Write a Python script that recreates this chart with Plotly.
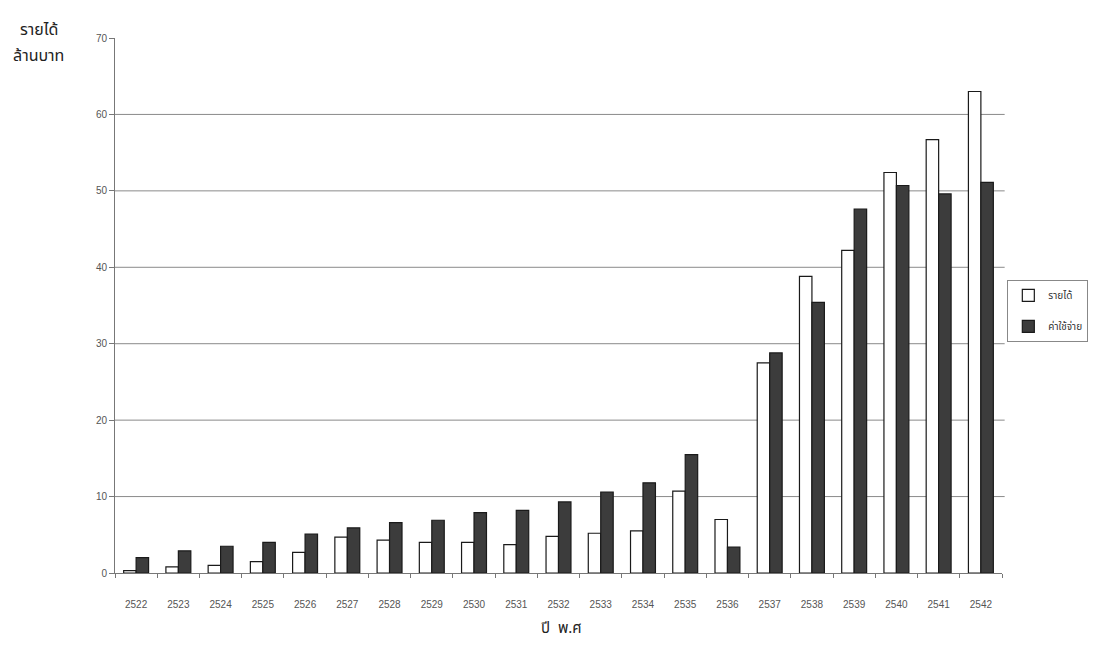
import plotly.graph_objects as go

# Fiscal years (Buddhist Era)
years = ["2522", "2523", "2524", "2525", "2526", "2527", "2528", "2529", "2530", "2531",
         "2532", "2533", "2534", "2535", "2536", "2537", "2538", "2539", "2540", "2541", "2542"]

# Income and expenses, million baht
income = [0.3, 0.8, 1.0, 1.5, 2.7, 4.7, 4.3, 4.0, 4.0, 3.7,
          4.8, 5.2, 5.5, 10.7, 7.0, 27.5, 38.8, 42.2, 52.4, 56.7, 63.0]
expense = [2.0, 2.9, 3.5, 4.0, 5.1, 5.9, 6.6, 6.9, 7.9, 8.2,
           9.3, 10.6, 11.8, 15.5, 3.4, 28.8, 35.4, 47.6, 50.7, 49.6, 51.1]

grid_values = [10, 20, 30, 40, 50, 60]
y_ticks = [0, 10, 20, 30, 40, 50, 60, 70]

fig = go.Figure()
fig.add_trace(go.Bar(
    x=years, y=income, name="รายได้", legendgroup="income",
    marker=dict(color="#ffffff", line=dict(color="#1a1a1a", width=1.2)),
))
fig.add_trace(go.Bar(
    x=years, y=expense, name="ค่าใช้จ่าย", legendgroup="expense",
    marker=dict(color="#3c3c3c", line=dict(color="#1a1a1a", width=1.2)),
))

# horizontal gridlines (none at the top of the axis)
for g in grid_values:
    fig.add_shape(type="line", xref="paper", yref="y", x0=0, x1=1.003, y0=g, y1=g,
                  line=dict(color="#8a8a8a", width=1), layer="below")

thai_font = "Noto Sans Thai, Tahoma, DejaVu Sans, sans-serif"

fig.update_layout(
    width=1100, height=655,
    margin=dict(l=115, r=92, t=38, b=82),
    paper_bgcolor="white", plot_bgcolor="white",
    barmode="group", bargap=0.41, bargroupgap=0,
    font=dict(family="Liberation Sans, Arial, sans-serif", size=10, color="#555555"),
    showlegend=True,
    legend=dict(
        x=1.006, xanchor="left", y=0.49, yanchor="middle",
        bordercolor="#888888", borderwidth=1, bgcolor="white",
        font=dict(family=thai_font, size=10, color="#333333"),
        itemwidth=30, tracegroupgap=12,
    ),
    xaxis=dict(
        type="category", showgrid=False,
        showline=True, linecolor="#777777", linewidth=1,
        ticks="outside", tickson="boundaries", ticklen=4, tickcolor="#777777",
        ticklabelstandoff=22,
        tickfont=dict(size=10, color="#555555"),
    ),
    yaxis=dict(
        range=[0, 70], tickvals=y_ticks, showgrid=False, zeroline=False,
        showline=True, linecolor="#777777", linewidth=1,
        ticks="outside", ticklen=5, tickcolor="#777777",
        tickfont=dict(size=10, color="#555555"),
    ),
    annotations=[
        dict(text="รายได้", xref="paper", yref="paper", x=-0.086, y=1.015,
             xanchor="center", yanchor="middle", showarrow=False,
             font=dict(family=thai_font, size=16, color="#222222")),
        dict(text="ล้านบาท", xref="paper", yref="paper", x=-0.086, y=0.966,
             xanchor="center", yanchor="middle", showarrow=False,
             font=dict(family=thai_font, size=16, color="#222222")),
        dict(text="ปี  พ.ศ", xref="paper", yref="paper", x=0.503, y=-0.103,
             xanchor="center", yanchor="middle", showarrow=False,
             font=dict(family=thai_font, size=15, color="#222222")),
    ],
)

fig.write_html("out.html")
